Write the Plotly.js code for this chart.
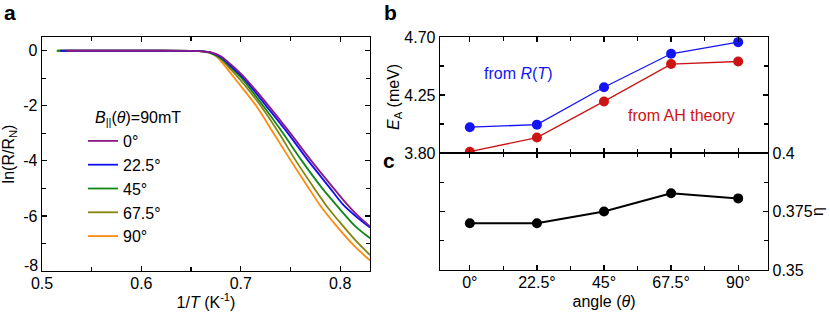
<!DOCTYPE html>
<html>
<head>
<meta charset="utf-8">
<script src="https://cdn.plot.ly/plotly-3.0.1.min.js"></script>
<style>html,body{margin:0;padding:0;background:#fff}#chart{width:830px;height:313px}</style>
</head>
<body>
<div id="chart"></div>
<script>
// ---- Panel a: ln(R/RN) vs 1/T ----
const angleLabels = ["0°", "22.5°", "45°", "67.5°", "90°"];
const curveColors = ["#8a1a8a", "#1010f0", "#12861a", "#858510", "#ff8a10"];

const x0 = [0.524, 0.60, 0.65, 0.662, 0.670, 0.680, 0.690, 0.7045, 0.728, 0.750, 0.771, 0.7935, 0.805, 0.818, 0.830];
const y0 = [0, 0, -0.005, -0.02, -0.06, -0.20, -0.50, -1.00, -2.00, -3.00, -4.00, -5.00, -5.50, -6.00, -6.38];

const x22 = [0.5185, 0.60, 0.65, 0.662, 0.670, 0.680, 0.690, 0.703, 0.7255, 0.7475, 0.768, 0.790, 0.802, 0.816, 0.830];
const y22 = [0, 0, -0.005, -0.02, -0.07, -0.23, -0.56, -1.00, -2.00, -3.00, -4.00, -5.00, -5.55, -6.02, -6.42];

const x45 = [0.5148, 0.60, 0.65, 0.662, 0.670, 0.680, 0.690, 0.701, 0.7225, 0.7425, 0.7615, 0.782, 0.796, 0.8145, 0.830];
const y45 = [0, 0, -0.005, -0.02, -0.08, -0.27, -0.60, -1.00, -2.00, -3.00, -4.00, -5.00, -5.60, -6.35, -6.81];

const x67 = [0.516, 0.60, 0.65, 0.662, 0.670, 0.680, 0.690, 0.700, 0.720, 0.7385, 0.7555, 0.774, 0.7855, 0.799, 0.8145, 0.830];
const y67 = [0, 0, -0.005, -0.02, -0.09, -0.30, -0.68, -1.08, -2.00, -3.00, -4.00, -5.00, -5.60, -6.20, -6.85, -7.42];

const x90 = [0.516, 0.60, 0.65, 0.660, 0.668, 0.676, 0.684, 0.696, 0.7155, 0.733, 0.7505, 0.7685, 0.7795, 0.796, 0.8145, 0.830];
const y90 = [0, 0, -0.005, -0.02, -0.07, -0.22, -0.55, -1.10, -2.00, -3.00, -4.00, -5.00, -5.60, -6.35, -7.10, -7.62];

const aXTickVals = [0.5, 0.6, 0.7, 0.8];
const aXTickText = ["0.5", "0.6", "0.7", "0.8"];
const aYTickVals = [0, -2, -4, -6, -8];
const aYTickText = ["0", "-2", "-4", "-6", "-8"];

// ---- Panel b / c ----
const angles = [0, 22.5, 45, 67.5, 90];
const angleTickText = ["0°", "22.5°", "45°", "67.5°", "90°"];
const eaFromRT = [4.00, 4.02, 4.31, 4.57, 4.66];
const eaFromAH = [3.81, 3.92, 4.20, 4.49, 4.51];
const eta = [0.370, 0.370, 0.375, 0.3828, 0.3806];

const bYTickVals = [3.80, 4.25, 4.70];
const bYTickText = ["3.80", "4.25", "4.70"];
const cYTickVals = [0.35, 0.375, 0.4];
const cYTickText = ["0.35", "0.375", "0.4"];

const FONT = "Liberation Sans, Arial, sans-serif";

const curveX = [x0, x22, x45, x67, x90];
const curveY = [y0, y22, y45, y67, y90];

const traces = [];
// draw 90° first so 0° ends on top
for (let i = 4; i >= 0; i--) {
  traces.push({
    x: curveX[i], y: curveY[i], type: "scatter", mode: "lines",
    name: angleLabels[i], xaxis: "x", yaxis: "y",
    line: {color: curveColors[i], width: 1.8, shape: "spline", smoothing: 0.8},
    showlegend: true
  });
}
traces.push({
  x: angles, y: eaFromRT, type: "scatter", mode: "lines+markers",
  xaxis: "x2", yaxis: "y2", showlegend: false,
  line: {color: "#1414f5", width: 1.3}, marker: {color: "#1414f5", size: 10}
});
traces.push({
  x: angles, y: eaFromAH, type: "scatter", mode: "lines+markers",
  xaxis: "x2", yaxis: "y2", showlegend: false,
  line: {color: "#cc1414", width: 1.3}, marker: {color: "#cc1414", size: 10}
});
traces.push({
  x: angles, y: eta, type: "scatter", mode: "lines+markers",
  xaxis: "x3", yaxis: "y3", showlegend: false,
  line: {color: "#000", width: 2}, marker: {color: "#000", size: 10}
});

const axBase = {
  showline: true, linecolor: "#000", linewidth: 1.3, mirror: "ticks",
  ticks: "inside", ticklen: 5, tickwidth: 1.2, tickcolor: "#000",
  showgrid: false, zeroline: false, automargin: false,
  tickfont: {family: FONT, size: 16, color: "#000"}
};

function ann(text, px, py, size, color, extra) {
  return Object.assign({
    text: text, x: px / 830, y: 1 - py / 313, xref: "paper", yref: "paper",
    xanchor: "center", yanchor: "middle", showarrow: false,
    font: {family: FONT, size: size, color: color || "#000"}
  }, extra || {});
}

const nY = aYTickVals.length;

const layout = {
  width: 830, height: 313,
  margin: {l: 0, r: 0, t: 0, b: 0},
  paper_bgcolor: "#fff", plot_bgcolor: "rgba(0,0,0,0)",
  font: {family: FONT, size: 16, color: "#000"},
  xaxis: Object.assign({}, axBase, {
    domain: [42/830, 370/830], anchor: "y", range: [0.5, 0.83],
    tickmode: "array", tickvals: aXTickVals, ticktext: aXTickText, ticklabelstandoff: -3,
    minor: {ticks: "inside", ticklen: 4, dtick: 0.05, tick0: 0.5, tickcolor: "#000", showgrid: false},
    title: {text: "1/<i>T</i> (K<sup>-1</sup>)", font: {family: FONT, size: 16}, standoff: 6}
  }),
  yaxis: Object.assign({}, axBase, {
    domain: [42/313, 276/313], anchor: "x", range: [-8, 0.5],
    // bottom label is drawn separately (nudged up like the original)
    tickmode: "array", tickvals: aYTickVals.slice(0, nY - 1), ticktext: aYTickText.slice(0, nY - 1),
    minor: {ticks: "inside", ticklen: 4, dtick: 1, tick0: 0, tickcolor: "#000", showgrid: false},
    title: {text: "ln(R/R<sub>N</sub>)", font: {family: FONT, size: 16}, standoff: 8}
  }),
  xaxis2: Object.assign({}, axBase, {
    domain: [440/830, 768/830], anchor: "y2", range: [-10, 100],
    tickmode: "array", tickvals: angles, showticklabels: false,
    minor: {ticks: "inside", ticklen: 4, dtick: 22.5, tick0: 11.25, tickcolor: "#000", showgrid: false}
  }),
  yaxis2: Object.assign({}, axBase, {
    domain: [160/313, 276/313], anchor: "x2", range: [3.80, 4.70],
    tickmode: "array", tickvals: bYTickVals, ticktext: bYTickText,
    minor: {ticks: "inside", ticklen: 4, tickvals: [4.025, 4.475], tickcolor: "#000", showgrid: false}
  }),
  xaxis3: Object.assign({}, axBase, {
    domain: [440/830, 768/830], anchor: "y3", range: [-10, 100],
    tickmode: "array", tickvals: angles, ticktext: angleTickText, ticklabelstandoff: -3,
    minor: {ticks: "inside", ticklen: 4, dtick: 22.5, tick0: 11.25, tickcolor: "#000", showgrid: false},
    title: {text: "angle (<i>θ</i>)", font: {family: FONT, size: 16}, standoff: 6}
  }),
  yaxis3: Object.assign({}, axBase, {
    domain: [43/313, 160/313], anchor: "x3", side: "right", range: [0.35, 0.4],
    tickmode: "array", tickvals: cYTickVals, ticktext: cYTickText,
    minor: {ticks: "inside", ticklen: 4, tickvals: [0.3625, 0.3875], tickcolor: "#000", showgrid: false}
  }),
  legend: {
    x: 83/830, y: 1 - 124/313, xanchor: "left", yanchor: "top",
    bgcolor: "rgba(0,0,0,0)", borderwidth: 0, traceorder: "reversed",
    font: {family: FONT, size: 16, color: "#000"},
    itemwidth: 30
  },
  annotations: [
    ann("<b>a</b>", 10, 12, 21),
    ann("<b>b</b>", 390, 12, 21),
    ann("<b>c</b>", 389, 160, 21),
    ann("<i>B</i><sub>||</sub>(<i>θ</i>)=90mT", 93, 118, 16, "#000", {xanchor: "left"}),
    ann("<i>E</i><sub>A</sub> (meV)", 395, 97, 16, "#000", {textangle: -90}),
    ann("η", 817, 212, 16, "#000", {textangle: -90}),
    ann("from <i>R</i>(<i>T</i>)", 518, 73, 16, "#1414f5"),
    ann("from AH theory", 681, 116, 16, "#cc1414"),
    {text: aYTickText[nY - 1], x: 40/830, xref: "paper", xanchor: "right",
     y: aYTickVals[nY - 1], yref: "y", yanchor: "middle", yshift: 6, showarrow: false,
     font: {family: FONT, size: 16, color: "#000"}}
  ]
};

Plotly.newPlot("chart", traces, layout, {staticPlot: true, displayModeBar: false});
</script>
</body>
</html>
